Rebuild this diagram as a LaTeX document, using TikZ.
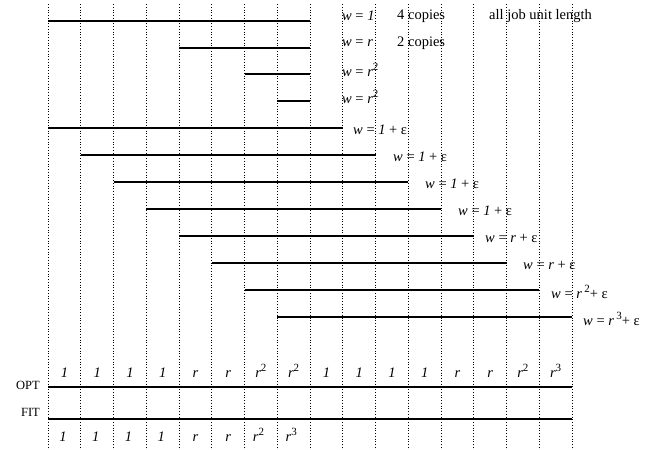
\documentclass[tikz,border=0pt]{standalone}
\usepackage{fontspec}
\setmainfont{Liberation Serif}
\newcommand{\sps}[1]{\raisebox{0.45em}{\fontsize{11}{12}\selectfont #1}}
\begin{document}
\begin{tikzpicture}[x=1pt,y=-1pt,
  job/.style={line width=1.1pt},
  grid/.style={dotted,line width=0.75pt},
  lab/.style={anchor=west,inner sep=0pt,font=\fontsize{14.5}{16}\selectfont},
  cl/.style={inner sep=0pt,font=\fontsize{14.5}{16}\selectfont}]
\useasboundingbox (0,0) rectangle (651,450);
\def\cx#1{48+32.75*#1}
% grid
\foreach \i in {0,...,16} \draw[grid] ({\cx{\i}},4) -- ({\cx{\i}},450);
% jobs
\foreach \y/\a/\b in {21/0/8,48/4/8,74/6/8,101/7/8,128/0/9,155/1/10,182/2/11,209/3/12,236/4/13,263/5/14,290/6/15,317/7/16,387/0/16,419/0/16}
  \draw[job] ({\cx{\a}},\y) -- ({\cx{\b}},\y);
% labels
\node[lab] (l1) at (342,16) {\textit{w} = \textit{1}};
\node[lab] (c1) at (397,16) {4 copies};
\node[lab] (al) at (489,16) {all job unit length};
\node[lab] (l2) at (342,43) {\textit{w} = \textit{r}};
\node[lab] (c2) at (397,43) {2 copies};
\node[lab] (l3) at (342,70) {\textit{w} = \textit{r}\sps{2}};
\node[lab] (l4) at (342,97) {\textit{w} = \textit{r}\sps{2}};
\node[lab] (l5) at (353,130) {\textit{w} = \textit{1} + ε};
\node[lab] (l6) at (393,157) {\textit{w} = \textit{1} + ε};
\node[lab] (l7) at (425,184) {\textit{w} = \textit{1} + ε};
\node[lab] (l8) at (458,211) {\textit{w} = \textit{1} + ε};
\node[lab] (l9) at (485,238) {\textit{w} = \textit{r} + ε};
\node[lab] (l10) at (523,265) {\textit{w} = \textit{r} + ε};
\node[lab] (l11) at (551,292) {\textit{w} = \textit{r}\,\sps{2}+ ε};
\node[lab] (l12) at (583,319) {\textit{w} = \textit{r}\,\sps{3}+ ε};
% OPT / FIT
\node[cl,anchor=east,font=\fontsize{12.5}{14}\selectfont] (opt) at (40,385) {OPT};
\node[cl,anchor=east,font=\fontsize{12.5}{14}\selectfont] (fit) at (40,412) {FIT};
\foreach \i/\t in {0/1,1/1,2/1,3/1,8/1,9/1,10/1,11/1}
  \node[cl] (o\i) at ({\cx{\i}+16.4},373) {\textit{\t}};
\foreach \i/\t in {4/r,5/r,12/r,13/r}
  \node[cl] (o\i) at ({\cx{\i}+16.4},374) {\textit{\t}};
\foreach \i/\t in {6/2,7/2,14/2,15/3}
  \node[cl] (o\i) at ({\cx{\i}+16.4},371) {\textit{r}\sps{\t}};
\foreach \i/\t in {0/1,1/1,2/1,3/1}
  \node[cl] (f\i) at ({\cx{\i}+15},437) {\textit{\t}};
\foreach \i/\t in {4/r,5/r}
  \node[cl] (f\i) at ({\cx{\i}+16.4},438) {\textit{\t}};
\foreach \i/\t in {6/2,7/3}
  \node[cl] (f\i) at ({\cx{\i}+14},435) {\textit{r}\sps{\t}};
\end{tikzpicture}
\end{document}
